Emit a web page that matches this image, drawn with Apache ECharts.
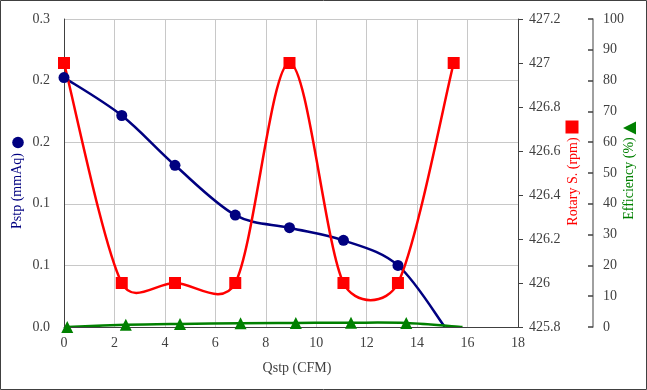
<!DOCTYPE html>
<html>
<head>
<meta charset="utf-8">
<script src="https://cdn.jsdelivr.net/npm/echarts@6/dist/echarts.min.js"></script>
<style>
html,body{margin:0;padding:0;background:#fff;}
#c{width:647px;height:390px;}
</style>
</head>
<body>
<div id="c"></div>
<script>
// ---- data ----
var qstpP = [0.0, 2.29, 4.40, 6.79, 8.94, 11.08, 13.24, 15.1];
var pstp = [0.243, 0.206, 0.1575, 0.109, 0.0967, 0.0844, 0.060, 0];
var qstpR = [0.0, 2.29, 4.40, 6.79, 8.94, 11.08, 13.24, 15.45];
var rpm = [427, 426, 426, 426, 427, 426, 426, 427];
var qstpE = [0.13, 2.45, 4.6, 7.0, 9.19, 11.38, 13.57, 15.8];
var eff = [0, 0.7, 1.0, 1.2, 1.3, 1.4, 1.3, 0];
var xTitle = 'Qstp (CFM)';
var y1Title = 'Pstp (mmAq)';
var y2Title = 'Rotary S. (rpm)';
var y3Title = 'Efficiency (%)';

var FONT = '"Liberation Serif", "Times New Roman", serif';
var TXT = '#404040';

// Smoothed line (Excel-like Bezier spline) drawn via the axes' scales
function curveSeries(xs, ys, yIdx, color) {
  return {
    type: 'custom', yAxisIndex: yIdx, clip: true, silent: true,
    data: xs.map(function (x, i) { return [x, ys[i]]; }),
    encode: { x: 0, y: 1 },
    renderItem: function (params, api) {
      var i = params.dataIndex, n = xs.length;
      if (i >= n - 1) return { type: 'group', children: [] };
      function p(k) { k = Math.max(0, Math.min(n - 1, k)); return api.coord([xs[k], ys[k]]); }
      var P0 = p(i - 1), P1 = p(i), P2 = p(i + 1), P3 = p(i + 2);
      var d = Math.hypot(P2[0] - P1[0], P2[1] - P1[1]);
      function cp(A, B, base, sign) {
        var vx = B[0] - A[0], vy = B[1] - A[1];
        var len = Math.hypot(vx, vy);
        if (len === 0) return base;
        var mag = Math.min(len / 6, d * 0.47);
        return [base[0] + sign * vx / len * mag, base[1] + sign * vy / len * mag];
      }
      var c1 = cp(P0, P2, P1, 1);
      var c2 = cp(P1, P3, P2, -1);
      return {
        type: 'bezierCurve',
        shape: { x1: P1[0], y1: P1[1], x2: P2[0], y2: P2[1],
          cpx1: c1[0], cpy1: c1[1], cpx2: c2[0], cpy2: c2[1] },
        style: { stroke: color, lineWidth: 2.5, fill: null }
      };
    }
  };
}
function markerSeries(xs, ys, yIdx, color, symbol, size, hideLast) {
  return {
    type: 'scatter', yAxisIndex: yIdx, symbol: symbol, symbolSize: size,
    itemStyle: { color: color, opacity: 1 }, silent: true,
    data: xs.map(function (x, i) {
      var o = { value: [x, ys[i]] };
      if (hideLast && i === xs.length - 1) o.symbolSize = 0;
      return o;
    })
  };
}

var chart = echarts.init(document.getElementById('c'));
chart.setOption({
  animation: false,
  backgroundColor: '#fff',
  grid: { left: 64, right: 129, top: 19, bottom: 63, containLabel: false },
  xAxis: {
    type: 'value', min: 0, max: 18, interval: 2,
    axisLine: { show: true, onZero: false, lineStyle: { color: TXT, width: 1 } },
    axisTick: { show: false },
    axisLabel: { color: TXT, fontFamily: FONT, fontSize: 14, margin: 9 },
    splitLine: { show: true, lineStyle: { color: '#c8c8c8', width: 1 } }
  },
  yAxis: [
    {
      type: 'value', position: 'left', min: 0, max: 0.3, interval: 0.06,
      axisLine: { show: true, lineStyle: { color: TXT, width: 1 } },
      axisTick: { show: false },
      axisLabel: { color: TXT, fontFamily: FONT, fontSize: 14, margin: 14,
        formatter: function (v) { return v.toFixed(1); } },
      splitLine: { show: true, lineStyle: { color: '#c8c8c8', width: 1 } }
    },
    {
      type: 'value', position: 'right', min: 425.8, max: 427.2, interval: 0.2,
      axisLine: { show: true, lineStyle: { color: TXT, width: 1 } },
      axisTick: { show: true, inside: false, length: 5, lineStyle: { color: TXT } },
      axisLabel: { color: TXT, fontFamily: FONT, fontSize: 14, margin: 11,
        formatter: function (v) { return String(+v.toFixed(1)); } },
      splitLine: { show: false }
    },
    {
      type: 'value', position: 'right', offset: 75, min: 0, max: 100, interval: 10,
      axisLine: { show: true, lineStyle: { color: '#808080', width: 1.5 } },
      axisTick: { show: true, inside: true, length: 5, lineStyle: { color: '#404040', width: 1.5 } },
      axisLabel: { color: TXT, fontFamily: FONT, fontSize: 14, margin: 10 },
      splitLine: { show: false }
    }
  ],
  series: [
    curveSeries(qstpP, pstp, 0, '#000080'),
    markerSeries(qstpP, pstp, 0, '#000080', 'circle', 11, true),
    curveSeries(qstpR, rpm, 1, '#ff0000'),
    markerSeries(qstpR, rpm, 1, '#ff0000', 'rect', 12, false),
    curveSeries(qstpE, eff, 2, '#008000'),
    markerSeries(qstpE, eff, 2, '#008000', 'triangle', 12, true)
  ],
  graphic: [
    { type: 'rect', shape: { x: 0.5, y: 0.5, width: 646, height: 389 },
      style: { fill: 'none', stroke: '#404040', lineWidth: 1 }, silent: true },
    { type: 'text', x: 297, y: 368,
      style: { text: xTitle, fill: TXT, font: '14px ' + FONT, align: 'center', verticalAlign: 'middle' } },
    { type: 'text', x: 17.5, y: 191, rotation: Math.PI / 2,
      style: { text: y1Title, fill: '#000080', font: '14px ' + FONT, align: 'center', verticalAlign: 'middle' } },
    { type: 'circle', shape: { cx: 18, cy: 142.5, r: 5.8 }, style: { fill: '#000080' } },
    { type: 'text', x: 573, y: 181.5, rotation: Math.PI / 2,
      style: { text: y2Title, fill: '#ff0000', font: '14px ' + FONT, align: 'center', verticalAlign: 'middle' } },
    { type: 'rect', shape: { x: 565.5, y: 120.5, width: 13, height: 13 }, style: { fill: '#ff0000' } },
    { type: 'text', x: 629, y: 178.5, rotation: Math.PI / 2,
      style: { text: y3Title, fill: '#008000', font: '14px ' + FONT, align: 'center', verticalAlign: 'middle' } },
    { type: 'polygon', shape: { points: [[623, 128], [636, 121.5], [636, 134.5]] }, style: { fill: '#008000' } }
  ]
});
</script>
</body>
</html>
